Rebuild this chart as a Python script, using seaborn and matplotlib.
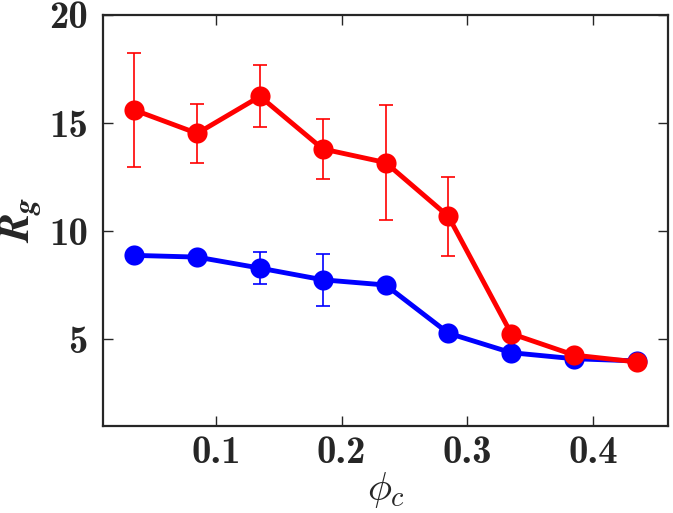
import pandas as pd
import matplotlib
matplotlib.use("Agg")
import matplotlib.pyplot as plt
import seaborn as sns

# === DATI ===
phi_c = [0.035, 0.085, 0.135, 0.185, 0.235, 0.285, 0.335, 0.385, 0.435]

rg_red = [15.6, 14.52, 16.23, 13.8, 13.17, 10.68, 5.26, 4.27, 3.95]
err_red = [2.62, 1.35, 1.43, 1.4, 2.67, 1.84, 0.0, 0.0, 0.0]

rg_blue = [8.88, 8.8, 8.29, 7.75, 7.51, 5.28, 4.38, 4.1, 4.0]
err_blue = [0.0, 0.0, 0.74, 1.19, 0.0, 0.0, 0.0, 0.0, 0.0]

x_ticks = [0.1, 0.2, 0.3, 0.4]
y_ticks = [5, 10, 15, 20]

df = pd.DataFrame({
    "phi": phi_c * 2,
    "Rg": rg_blue + rg_red,
    "serie": ["blue"] * len(phi_c) + ["red"] * len(phi_c),
})

# === STILE ===
sns.set_style("ticks")
plt.rcParams["mathtext.fontset"] = "cm"
plt.rcParams["font.family"] = ["DejaVu Serif"]
# font "custom" solo per R_g, in grassetto corsivo
plt.rcParams["mathtext.it"] = "STIXGeneral:italic:bold"
plt.rcParams["mathtext.rm"] = "STIXGeneral:bold"

fig = plt.figure(figsize=(6.73, 5.13), dpi=100)
ax = fig.add_axes([0.153, 0.170, 0.840, 0.801])

colors = {"blue": "#0000ff", "red": "#ff0000"}

for name, err in [("blue", err_blue), ("red", err_red)]:
    sub = df[df["serie"] == name]
    ax.errorbar(sub["phi"], sub["Rg"], yerr=err, fmt="none",
                ecolor=colors[name], elinewidth=1.2, capsize=5,
                capthick=1.2, zorder=2)
    sns.lineplot(data=sub, x="phi", y="Rg", color=colors[name],
                 marker="o", markersize=14.5, markeredgewidth=0,
                 linewidth=3.5, ax=ax, zorder=3)

ax.set_xlim(0.01, 0.46)
ax.set_ylim(1, 20)
ax.set_xticks(x_ticks)
ax.set_yticks(y_ticks)
ax.set_xticklabels(["%.1f" % v for v in x_ticks])
ax.set_yticklabels(["%d" % v for v in y_ticks])

ax.tick_params(direction="in", length=7, width=1, top=True, right=True,
               labelsize=28, pad=11)
ax.tick_params(axis="x", pad=7)
for lab in ax.get_xticklabels() + ax.get_yticklabels():
    lab.set_fontfamily("cmb10")
for side in ax.spines.values():
    side.set_linewidth(1.6)
    side.set_visible(True)

ax.set_xlabel(r"$\phi_c$", fontsize=29)
ax.xaxis.set_label_coords(0.5, -0.108)
ax.set_ylabel(r"$R_g$", fontsize=31, labelpad=4, math_fontfamily="custom")

plt.savefig("out.png", dpi=100)
